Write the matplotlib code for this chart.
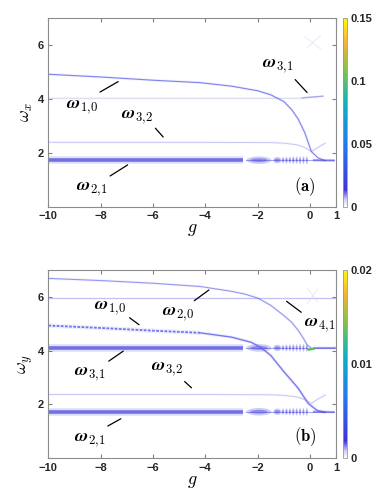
import numpy as np
import matplotlib.pyplot as plt
from matplotlib.colors import LinearSegmentedColormap, Normalize
from matplotlib.cm import ScalarMappable
from matplotlib.patches import Ellipse

plt.rcParams['mathtext.fontset'] = 'cm'
plt.rcParams['font.family'] = ['Liberation Sans', 'DejaVu Sans']

# ---------------- data ----------------
# panel (a)
g_10a = [-10, -8, -6, -4.2, -3, -2, -1.5, -1, -0.7, -0.45, -0.2, 0.05, 0.3, 0.6]
w_10a = [4.91, 4.81, 4.69, 4.6, 4.47, 4.3, 4.15, 3.9, 3.6, 3.25, 2.75, 2.05, 1.82, 1.7]
g_32a = [-10, -4, -1.5, -1, -0.5, -0.2, 0.05, 0.3, 0.6]
w_32a = [2.39, 2.39, 2.38, 2.36, 2.3, 2.2, 2.05, 2.2, 2.37]
g_31a = [-10, -0.3, 0.1, 0.5]
w_31a = [4.02, 4.02, 4.06, 4.1]
g_21 = [-10, -2.55]
w_21 = [1.73, 1.73]
g_21_tail = [0.15, 0.9]
w_21_tail = [1.72, 1.71]

# panel (b)
g_20b = [-10, -8, -6, -4.2, -3, -2.5, -2, -1.5, -1, -0.7, -0.45, -0.25, -0.1, 0.05]
w_20b = [6.68, 6.6, 6.5, 6.38, 6.2, 6.1, 5.95, 5.68, 5.3, 5.05, 4.75, 4.45, 4.2, 4.1]
g_10b = [-10, -8, -6, -4.2, -3, -2.25, -1.9, -1.5, -1, -0.45, -0.07, 0.27, 0.6]
w_10b = [4.93, 4.84, 4.74, 4.66, 4.5, 4.31, 4.13, 3.82, 3.22, 2.6, 2.04, 1.78, 1.7]
g_32b = [-10, -4, -1.5, -1, -0.5, -0.2, 0.05, 0.3, 0.6]
w_32b = [2.37, 2.37, 2.36, 2.34, 2.28, 2.18, 2.04, 2.2, 2.36]
g_41b = [-10, 1]
w_41b = [5.95, 5.95]
g_31b = [-10, -2.55]
w_31b = [4.1, 4.1]

# blobs along the flat bands (centre g, extent in g, extent in omega)
blob_g = [-1.95, -1.25, -1.03, -0.9, -0.77, -0.64, -0.51, -0.38, -0.25, -0.12]
blob_dg = [0.95, 0.32, 0.1, 0.1, 0.1, 0.1, 0.09, 0.09, 0.08, 0.08]
blob_dw = [0.28, 0.24, 0.24, 0.26, 0.26, 0.28, 0.28, 0.3, 0.3, 0.3]

cbar_ticks_a = [0, 0.05, 0.1, 0.15]
cbar_ticks_b = [0, 0.01, 0.02]

# ---------------- styling ----------------
cmap = LinearSegmentedColormap.from_list('dens', [
    (0.00, (1.0, 1.0, 1.0)),
    (0.04, (0.80, 0.80, 0.95)),
    (0.09, (0.25, 0.20, 0.85)),
    (0.30, (0.15, 0.45, 0.95)),
    (0.55, (0.05, 0.70, 0.75)),
    (0.72, (0.50, 0.76, 0.30)),
    (0.87, (0.97, 0.70, 0.22)),
    (1.00, (0.98, 0.98, 0.05)),
])

strong = (0.30, 0.30, 0.88)
medium = (0.40, 0.40, 0.92)
light = (0.62, 0.62, 0.95)
faint = (0.86, 0.86, 0.96)


def soft_line(ax, g, w, color, lw, alpha, dashes=None):
    ax.plot(g, w, color=color, lw=lw * 2.5, alpha=alpha * 0.12, solid_capstyle='butt')
    ln, = ax.plot(g, w, color=color, lw=lw, alpha=alpha, solid_capstyle='butt')
    if dashes:
        ln.set_dashes(dashes)


def band(ax, g_band, w0, tail=True):
    # thick flat band with blobs
    ax.plot(g_band, [w0, w0], color=strong, lw=5.5, alpha=0.18, solid_capstyle='butt')
    ax.plot(g_band, [w0, w0], color=strong, lw=2.6, alpha=0.75, solid_capstyle='butt')
    ax.plot([-2.45, 0.9], [w0, w0], color=strong, lw=0.7, alpha=0.5)
    for gc, dg, dw in zip(blob_g, blob_dg, blob_dw):
        ax.add_patch(Ellipse((gc, w0), dg, dw, color=strong, alpha=0.28, lw=0))
        ax.add_patch(Ellipse((gc, w0), dg * 0.7, dw * 0.5, color=strong, alpha=0.5, lw=0))
    if tail:
        ax.plot(g_21_tail, [w0, w0 - 0.01], color=strong, lw=1.6, alpha=0.55)


def style_axes(ax, ylab):
    ax.set_xlim(-10, 1)
    ax.set_ylim(0, 7)
    ax.set_xticks([-10, -8, -6, -4, -2, 0, 1])
    ax.set_yticks([2, 4, 6])
    ax.tick_params(direction='in', top=True, right=True, length=3,
                   labelsize=8, color='0.5', pad=3)
    for lab in ax.get_xticklabels() + ax.get_yticklabels():
        lab.set_fontweight('bold')
        lab.set_color('0.15')
    for sp in ax.spines.values():
        sp.set_color('0.55')
        sp.set_linewidth(0.8)
    ax.set_xlabel(r'$g$', fontsize=13, labelpad=0)
    ax.set_ylabel(ylab, fontsize=13, labelpad=2)


def label(ax, text, txy, tail, head):
    ax.text(txy[0], txy[1], text, fontsize=13, ha='center', va='center')
    ax.annotate('', xy=head, xytext=tail,
                arrowprops=dict(arrowstyle='-', color='k', lw=0.9))


def colorbar(cax, vmax, ticks):
    sm = ScalarMappable(norm=Normalize(0, vmax), cmap=cmap)
    cb = fig.colorbar(sm, cax=cax, ticks=ticks)
    cb.outline.set_edgecolor('0.6')
    cb.outline.set_linewidth(0.6)
    cax.tick_params(length=0, labelsize=8, pad=2)
    cax.set_yticklabels([f'{t:g}' for t in ticks], fontweight='bold', color='0.15')


def om(sub):
    return r'$\boldsymbol{\omega}_{\mathbf{' + sub[0] + r',}\!\mathbf{' + sub[1] + r'}}$'


fig = plt.figure(figsize=(3.9, 4.95), dpi=100)
ax_a = fig.add_axes([0.124, 0.582, 0.738, 0.382])
cax_a = fig.add_axes([0.880, 0.582, 0.011, 0.382])
ax_b = fig.add_axes([0.124, 0.074, 0.738, 0.381])
cax_b = fig.add_axes([0.880, 0.074, 0.011, 0.381])

# -----------------------------
# (a)
# -----------------------------
soft_line(ax_a, g_31a, w_31a, faint, 0.8, 1.0)
ax_a.plot([-0.3, 0.5], [4.04, 4.1], color=medium, lw=1.0, alpha=0.45)
soft_line(ax_a, g_32a, w_32a, light, 0.7, 0.55)
soft_line(ax_a, g_10a, w_10a, medium, 0.8, 0.8)
band(ax_a, g_21, 1.73)
ax_a.plot([-0.2, 0.4], [6.3, 5.85], color=faint, lw=0.6, alpha=0.7)
ax_a.plot([-0.1, 0.4], [5.9, 6.35], color=faint, lw=0.6, alpha=0.7)

label(ax_a, om('10'), (-8.7, 3.68), (-8.12, 4.2), (-7.24, 4.69))
label(ax_a, om('32'), (-6.6, 3.33), (-5.98, 2.99), (-5.54, 2.51))
label(ax_a, om('21'), (-8.33, 0.64), (-7.73, 1.09), (-6.88, 1.61))
label(ax_a, om('31'), (-1.22, 5.21), (-0.64, 4.79), (-0.04, 4.16))
ax_a.text(-0.19, 0.75, r'$\mathbf{(a)}$', fontsize=12, ha='center', va='center')
style_axes(ax_a, r'$\omega_x$')
colorbar(cax_a, 0.15, cbar_ticks_a)

# -----------------------------
# (b)
# -----------------------------
soft_line(ax_b, g_41b, w_41b, light, 0.8, 0.6)
soft_line(ax_b, g_20b, w_20b, medium, 0.8, 0.65)
soft_line(ax_b, g_32b, w_32b, light, 0.7, 0.55)
soft_line(ax_b, g_10b[:4], w_10b[:4], medium, 1.3, 0.9, dashes=(1.5, 0.8))
soft_line(ax_b, g_10b[3:], w_10b[3:], medium, 1.0, 0.85)
band(ax_b, g_31b, 4.1, tail=False)
ax_b.plot([0.15, 1.0], [4.1, 4.1], color=strong, lw=1.6, alpha=0.55)
band(ax_b, g_21, 1.73)
ax_b.plot([-0.05, 0.15], [4.03, 4.07], color=(0.35, 0.75, 0.35), lw=1.5)
ax_b.plot([-0.1, 0.3], [6.3, 5.8], color=faint, lw=0.6, alpha=0.7)
ax_b.plot([-0.1, 0.3], [5.75, 6.3], color=faint, lw=0.6, alpha=0.7)

label(ax_b, om('10'), (-7.63, 5.57), (-6.98, 5.28), (-6.45, 4.9))
label(ax_b, om('20'), (-5.06, 5.36), (-4.51, 5.79), (-3.78, 6.31))
label(ax_b, om('31'), (-8.4, 3.11), (-7.78, 3.55), (-7.05, 4.04))
label(ax_b, om('32'), (-5.45, 3.29), (-4.87, 2.92), (-4.45, 2.55))
label(ax_b, om('21'), (-8.42, 0.69), (-7.82, 1.15), (-7.14, 1.52))
label(ax_b, om('41'), (0.38, 4.94), (-0.25, 5.36), (-0.98, 5.89))
ax_b.text(-0.19, 0.79, r'$\mathbf{(b)}$', fontsize=12, ha='center', va='center')
style_axes(ax_b, r'$\omega_y$')
colorbar(cax_b, 0.02, cbar_ticks_b)

fig.savefig('out.png', dpi=100)
